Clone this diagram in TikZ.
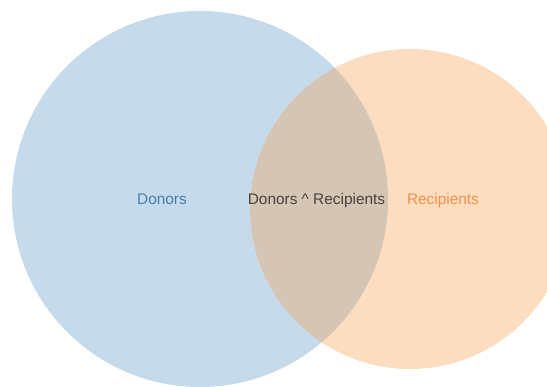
\documentclass[tikz,border=0pt]{standalone}
\usepackage{fontspec}
\setmainfont{Liberation Sans}
\usepackage{tikz}

\definecolor{donorfill}{RGB}{197,219,235}
\definecolor{recipfill}{RGB}{253,221,192}
\definecolor{bothfill}{RGB}{213,197,181}
\definecolor{donortext}{RGB}{70,125,170}
\definecolor{reciptext}{RGB}{240,145,75}
\definecolor{bothtext}{RGB}{72,66,60}

\begin{document}
\begin{tikzpicture}[x=1pt,y=-1pt]

\useasboundingbox (0,0) rectangle (547,387);

\begin{scope}
	\fill[donorfill] (200,199) circle (188);
	\fill[recipfill] (410,209) circle (160);
	\begin{scope}
		\clip (200,199) circle (188);
		\fill[bothfill] (410,209) circle (160);
	\end{scope}
\end{scope}

\begin{scope}[every node/.style={anchor=base,font=\fontsize{15.4}{18}\selectfont,inner sep=0pt}]
	\node[text=donortext] (D) at (162,205) {Donors};
	\node[text=bothtext] (DR) at (316.5,205) {Donors \^{} Recipients};
	\node[text=reciptext] (R) at (443,205) {Recipients};
\end{scope}

\end{tikzpicture}
\end{document}
